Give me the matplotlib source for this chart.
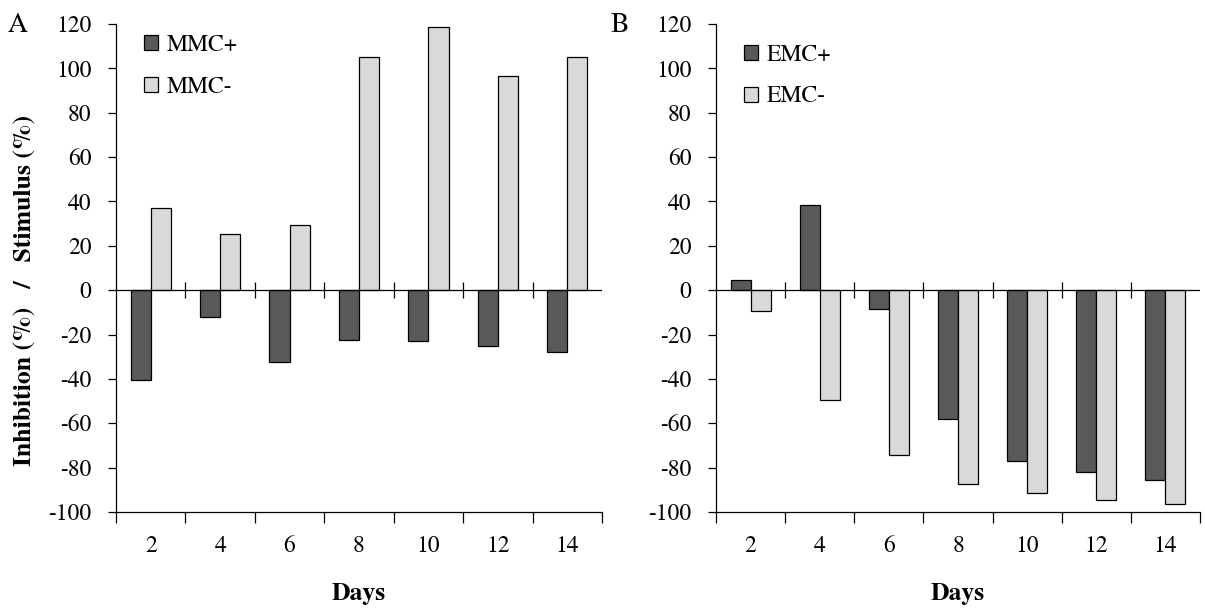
import matplotlib
matplotlib.use("Agg")
import matplotlib.pyplot as plt
import numpy as np

days = ["2", "4", "6", "8", "10", "12", "14"]
mmc_plus = [-40.5, -12, -32.5, -22.5, -23, -25, -28]
mmc_minus = [37, 25.5, 29.5, 105, 118.5, 96.5, 105]
emc_plus = [4.5, 38.3, -8.7, -58, -77, -82, -85.5]
emc_minus = [-9.5, -49.5, -74.3, -87.5, -91.5, -94.7, -96.4]

plt.rcParams['font.family'] = ['TeX Gyre Termes', 'STIXGeneral', 'DejaVu Serif']
plt.rcParams['axes.unicode_minus'] = False

DARK = '#595959'
LIGHT = '#d9d9d9'

fig = plt.figure(figsize=(12.05, 6.09), dpi=100)
axA = fig.add_axes([116/1205, 1-512/609, 486/1205, 488/609])
axB = fig.add_axes([716/1205, 1-512/609, 484/1205, 488/609])

def draw(ax, plus, minus, labels, letter, letter_x, leg_y):
    x = np.arange(len(days))
    w = 0.29
    ax.bar(x - w/2, plus, w, color=DARK, edgecolor='black', linewidth=0.9, label=labels[0], zorder=2)
    ax.bar(x + w/2, minus, w, color=LIGHT, edgecolor='black', linewidth=0.9, label=labels[1], zorder=2)
    ax.set_xlim(-0.5, len(days) - 0.5)
    ax.set_ylim(-100, 120)
    ax.set_yticks(np.arange(-100, 121, 20))
    ax.tick_params(axis='y', direction='out', length=5.5, width=0.9, pad=12, labelsize=17)
    for s in ['top', 'right']:
        ax.spines[s].set_visible(False)
    ax.spines['left'].set_linewidth(0.9)
    ax.spines['bottom'].set_linewidth(0.9)
    ax.set_xticks(x)
    ax.set_xticklabels(days)
    ax.tick_params(axis='x', which='major', length=0, pad=17, labelsize=17)
    ax.set_xticks(np.arange(-0.5, len(days), 1.0), minor=True)
    ax.tick_params(axis='x', which='minor', direction='out', length=8, width=0.9)
    ax.axhline(0, color='black', linewidth=0.9, zorder=3)
    bnd = np.arange(0.5, len(days) - 0.5, 1.0)
    ax.plot(bnd, np.zeros_like(bnd), ls='', marker='|', ms=12, mew=0.9, color='black', zorder=3, clip_on=False)
    ax.set_xlabel('Days', fontsize=18.5, fontweight='bold', labelpad=19)
    ax.legend(loc='upper left', bbox_to_anchor=(0.058, leg_y), frameon=False, fontsize=17,
              handlelength=0.6, handleheight=0.6, handletextpad=0.35, labelspacing=0.85,
              borderpad=0, borderaxespad=0)
    fig.text(letter_x, 1 - 25/609, letter, fontsize=20, ha='left', va='center')

draw(axA, mmc_plus, mmc_minus, ['MMC+', 'MMC-'], 'A', 8/1205, 0.978)
draw(axB, emc_plus, emc_minus, ['EMC+', 'EMC-'], 'B', 611/1205, 0.958)

fig.text(25/1205, 1 - 290/609, 'Inhibition (%)   /   Stimulus (%)', fontsize=18.5, fontweight='bold',
         rotation=90, ha='center', va='center')

fig.savefig('out.png', dpi=100)
